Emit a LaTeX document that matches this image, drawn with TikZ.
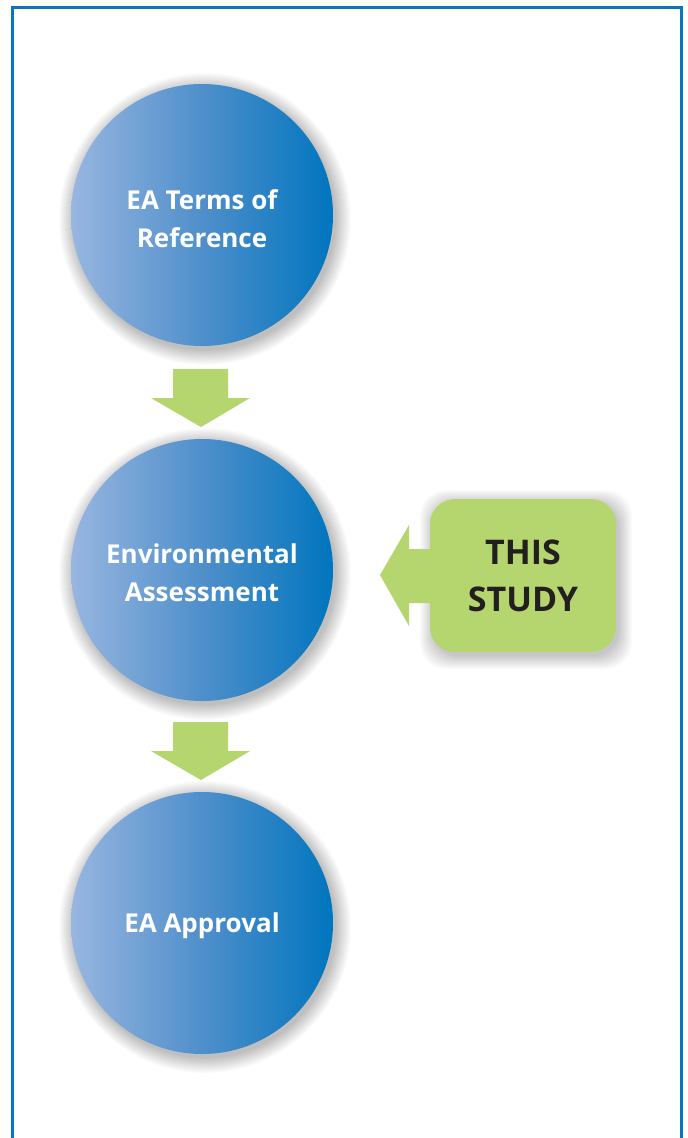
\documentclass[tikz,border=0pt]{standalone}
\usepackage{fontspec}
\setmainfont{Open Sans}
\usetikzlibrary{shapes.geometric,calc}
\definecolor{frameblue}{HTML}{0A74BE}
\definecolor{lightblue}{HTML}{98B6E0}
\definecolor{midblue}{HTML}{4F8FCB}
\definecolor{darkblue}{HTML}{0075BE}
\definecolor{leafgreen}{HTML}{B5D56F}
\definecolor{inkblack}{HTML}{231F20}
\tikzset{
  stage/.style={circle, minimum size=262pt, inner sep=0pt, align=center,
    left color=lightblue, right color=darkblue, middle color=midblue,
    text=white, font=\bfseries\fontsize{26}{38}\selectfont},
  stagetext/.style={text=white, align=center, font=\bfseries\fontsize{26}{38}\selectfont},
  arrowfill/.style={fill=leafgreen, draw=none},
  glow/.style={fill=black, opacity=0.014, draw=none},
}
\begin{document}
\begin{tikzpicture}[x=1pt,y=-1pt]
\useasboundingbox (0,0) rectangle (688,1138);
\fill[white] (0,0) rectangle (688,1138);
\draw[frameblue, line width=3pt] (12.5,1140) -- (12.5,7.5) -- (681.5,7.5) -- (681.5,1140);
% glows
\foreach \cy in {215,570,923}{
  \foreach \r in {131,132,...,146}{
    \fill[glow] (205,\cy+4) circle (\r);
  }
}
\foreach \i in {0,1,...,13}{
  \fill[glow, rounded corners=26pt] (433-\i,503-\i) rectangle (619+\i,656+\i);
}
\node[stage] (tor) at (202,215) {};
\node[stage] (ea) at (202,570) {};
\node[stage] (ap) at (202,923) {};
\node[stagetext] (torlabel) at ($(tor.center)+(0,4)$) {EA Terms of\\Reference};
\node[stagetext] (ealabel) at ($(ea.center)+(0,3)$) {Environmental\\Assessment};
\node[stagetext] (aplabel) at ($(ap.center)+(0,3)$) {EA Approval};
% down arrows
\fill[arrowfill] (173,369) -- (228,369) -- (228,398) -- (250,398) -- (201,427) -- (151,398) -- (173,398) -- cycle;
\fill[arrowfill] (173,722) -- (228,722) -- (228,751) -- (250,751) -- (201,780) -- (151,751) -- (173,751) -- cycle;
% callout
\node[fill=leafgreen, rounded corners=25pt, minimum width=186pt, minimum height=153pt,
  align=center, text=inkblack, font=\bfseries\fontsize{34}{47}\selectfont] (study) at (523,575.5) {THIS\\STUDY};
\fill[arrowfill] (440,549) -- (409,549) -- (409,525) -- (380,575) -- (409,626) -- (409,603) -- (440,603) -- cycle;
\end{tikzpicture}
\end{document}
